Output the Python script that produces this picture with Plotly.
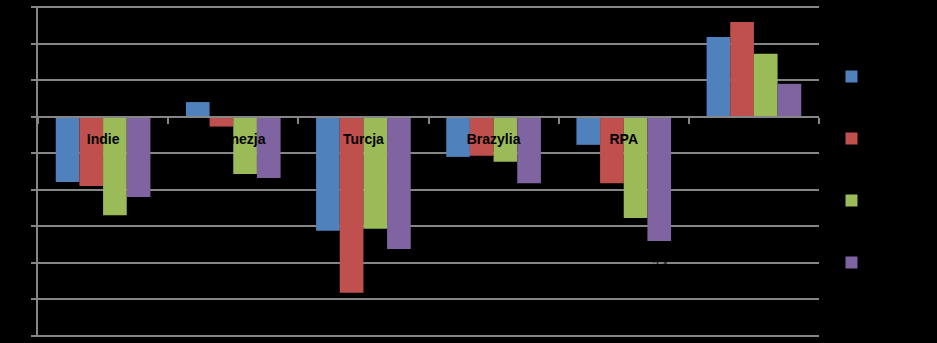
import plotly.graph_objects as go

categories = ["Indie", "Indonezja", "Turcja", "Brazylia", "RPA", "Chiny"]
series_names = ["2010", "2011", "2012", "2013"]
series_values = [
    [-1.79, 0.40, -3.12, -1.10, -0.77, 2.18],
    [-1.90, -0.27, -4.82, -1.07, -1.82, 2.59],
    [-2.70, -1.57, -3.07, -1.23, -2.77, 1.72],
    [-2.20, -1.68, -3.62, -1.82, -3.40, 0.90],
]
colors = ["#4F81BD", "#C0504D", "#9BBB59", "#8064A2"]
y_ticks = [-6, -5, -4, -3, -2, -1, 0, 1, 2, 3]

fig = go.Figure()
for i, (name, vals) in enumerate(zip(series_names, series_values)):
    fig.add_trace(go.Bar(
        x=categories, y=vals, name=name, marker_color=colors[i],
        marker_line_width=0, legendgroup=name,
    ))

fig.add_annotation(x=4, y=-4.0, xref="x", yref="y", xshift=35, yshift=-2, text="-3,4",
                   showarrow=False, font=dict(color="#000000", size=11, family="Liberation Sans"))

grey = "#868686"
fig.update_layout(
    width=937, height=343,
    paper_bgcolor="#000000", plot_bgcolor="#000000",
    margin=dict(l=38, r=118, t=6, b=6, autoexpand=False),
    barmode="group", bargap=0.2727, bargroupgap=0,
    font=dict(family="Liberation Sans", color="#000000"),
    showlegend=True,
    legend=dict(x=1.016, xanchor="left", y=0.831, yanchor="top",
                tracegroupgap=43, font=dict(size=12, color="#000000"),
                bgcolor="rgba(0,0,0,0)", itemwidth=30),
    xaxis=dict(
        type="category", anchor="free", position=6.03/9.06,
        showline=True, linecolor=grey, linewidth=2,
        ticks="outside", ticklen=6, tickcolor=grey, tickwidth=2,
        tickson="boundaries", showgrid=False, automargin=False,
        tickfont=dict(family="Liberation Sans", size=14, color="#000000", weight="bold"),
        ticklabelstandoff=10,
    ),
    yaxis=dict(
        range=[-6.03, 3.03], tickvals=y_ticks, automargin=False,
        showline=True, linecolor=grey, linewidth=2,
        ticks="outside", ticklen=5, tickcolor=grey, tickwidth=2,
        showgrid=True, gridcolor=grey, gridwidth=2,
        zeroline=False,
        tickfont=dict(color="#000000", size=11),
    ),
)

fig.write_html("out.html")
